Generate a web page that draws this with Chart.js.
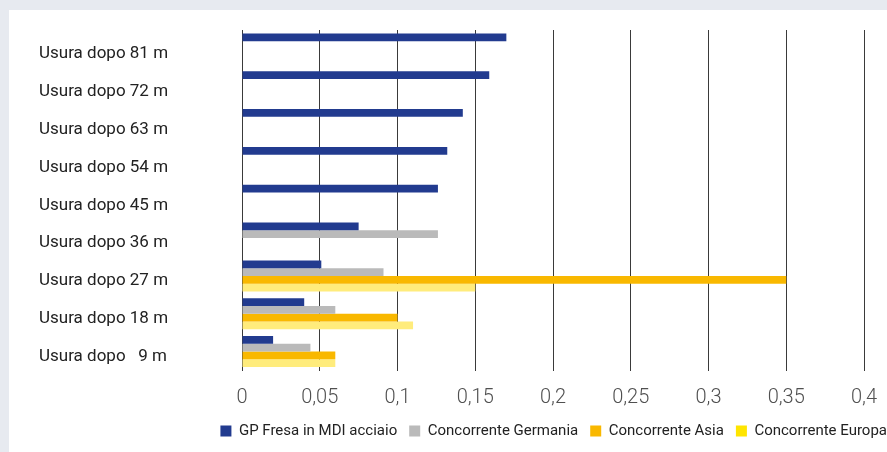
<!DOCTYPE html>
<html>
<head>
<meta charset="utf-8">
<script src="https://cdn.jsdelivr.net/npm/chart.js@4/dist/chart.umd.min.js"></script>
<style>
  html, body { margin: 0; padding: 0; }
  body { width: 887px; height: 452px; background: #e7eaf0; position: relative; overflow: hidden; }
  #panel { position: absolute; left: 9px; top: 10px; width: 890px; height: 442px; background: #ffffff; }
  #wrap { position: absolute; left: 0; top: 0; width: 890px; height: 442px; }
</style>
</head>
<body>
<div id="panel"><div id="wrap"><canvas id="c" width="890" height="442"></canvas></div></div>
<script>
const categories = [
  'Usura dopo 81 m', 'Usura dopo 72 m', 'Usura dopo 63 m',
  'Usura dopo 54 m', 'Usura dopo 45 m', 'Usura dopo 36 m',
  'Usura dopo 27 m', 'Usura dopo 18 m', 'Usura dopo   9 m'
];
const seriesNames = ['GP Fresa in MDI acciaio', 'Concorrente Germania', 'Concorrente Asia', 'Concorrente Europa'];
const gpFresa   = [0.170, 0.159, 0.142, 0.132, 0.126, 0.075, 0.051, 0.040, 0.020];
const germania  = [null, null, null, null, null, 0.126, 0.091, 0.060, 0.044];
const asia      = [null, null, null, null, null, null, 0.350, 0.100, 0.060];
const europa    = [null, null, null, null, null, null, 0.150, 0.110, 0.060];
const xTickLabels = ['0', '0,05', '0,1', '0,15', '0,2', '0,25', '0,3', '0,35', '0,4'];

const barColors = ['#223b8f', '#bababa', '#f9b800', '#ffec7c'];
const swatchColors = ['#223b8f', '#bababa', '#f9b800', '#ffe500'];
const seriesValues = [gpFresa, germania, asia, europa];

new Chart(document.getElementById('c'), {
  type: 'bar',
  data: {
    labels: categories,
    datasets: seriesValues.map((vals, i) => ({
      label: seriesNames[i],
      data: vals,
      backgroundColor: barColors[i],
      borderWidth: 0,
      categoryPercentage: 0.82,
      barPercentage: 1.0
    }))
  },
  options: {
    indexAxis: 'y',
    responsive: false,
    animation: false,
    devicePixelRatio: 1,
    layout: { padding: { left: 30, top: 20, right: 0, bottom: 3.5 } },
    plugins: {
      tooltip: { enabled: false },
      legend: {
        position: 'bottom',
        align: 'end',
        labels: {
          boxWidth: 11,
          boxHeight: 11,
          padding: 12,
          color: '#222222',
          font: { family: 'Roboto', size: 15 },
          generateLabels: (chart) => chart.data.datasets.map((ds, i) => ({
            text: ds.label,
            fillStyle: swatchColors[i],
            strokeStyle: swatchColors[i],
            lineWidth: 0,
            hidden: false,
            datasetIndex: i,
            fontColor: '#222222'
          }))
        }
      }
    },
    scales: {
      x: {
        type: 'linear',
        min: 0,
        max: 0.4,
        afterFit: (s) => { s.paddingRight = 35; s.height = 41; },
        ticks: {
          stepSize: 0.05,
          padding: 15,
          color: '#505050',
          font: { family: 'Roboto', size: 20, weight: '300' },
          callback: (v, i) => xTickLabels[i]
        },
        grid: { display: true, color: '#3a3a3a', lineWidth: 1, drawTicks: false },
        border: { display: false }
      },
      y: {
        afterFit: (s) => { s.width = 203; },
        ticks: {
          crossAlign: 'far',
          labelOffset: 5,
          color: '#222222',
          font: { family: 'Roboto', size: 17 }
        },
        grid: { display: false },
        border: { display: true, color: '#3a3a3a', width: 1 }
      }
    }
  }
});
</script>
</body>
</html>
